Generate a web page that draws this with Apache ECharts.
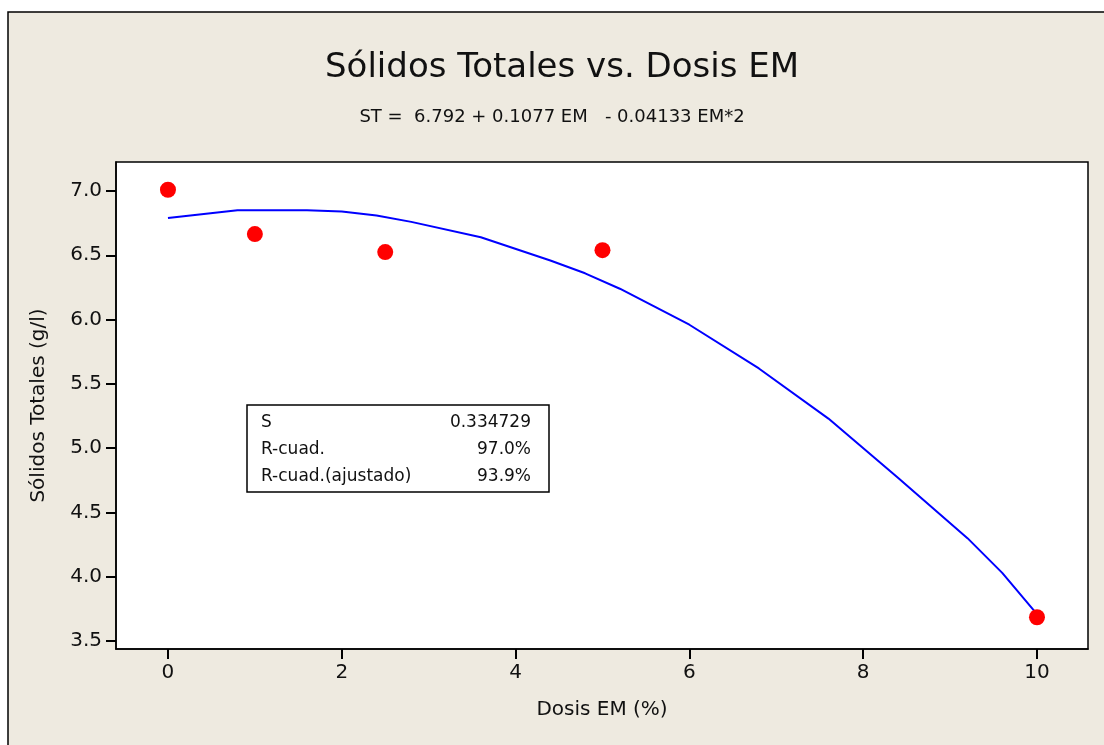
<!DOCTYPE html>
<html>
<head>
<meta charset="utf-8">
<script src="https://cdn.jsdelivr.net/npm/echarts@6/dist/echarts.min.js"></script>
<style>
  html, body { margin: 0; padding: 0; background: #fff; }
  #chart { width: 1104px; height: 745px; }
</style>
</head>
<body>
<div id="chart"></div>
<script>
// observed points (dose EM %, total solids g/l)
var dosis = [0, 1, 2.5, 5, 10];
var solidos = [7.01, 6.665, 6.525, 6.54, 3.685];

// fitted curve as drawn
var ajusteX = [0, 0.8, 1.6, 2.0, 2.4, 2.8, 3.6, 4.4, 4.8, 5.2, 5.6, 6.0, 6.8, 7.6, 8.4, 9.2, 9.6, 10];
var ajusteY = [6.79, 6.85, 6.85, 6.84, 6.81, 6.76, 6.64, 6.46, 6.36, 6.24, 6.10, 5.96, 5.62, 5.23, 4.77, 4.30, 4.03, 3.71];

var xTicks = [0, 2, 4, 6, 8, 10];
var yTicks = [3.5, 4.0, 4.5, 5.0, 5.5, 6.0, 6.5, 7.0];

var statsNombres = ['S', 'R-cuad.', 'R-cuad.(ajustado)'];
var statsValores = ['0.334729', '97.0%', '93.9%'];

var fuente = 'DejaVu Sans';

var chart = echarts.init(document.getElementById('chart'));

var puntos = dosis.map(function (d, i) { return [d, solidos[i]]; });
var curva = ajusteX.map(function (d, i) { return [d, ajusteY[i]]; });

// stats box
var cajaG = [
  {
    type: 'rect',
    shape: { x: 247, y: 405, width: 302, height: 87 },
    style: { fill: '#fff', stroke: '#000', lineWidth: 1.5 },
    z: 10
  }
];
statsNombres.forEach(function (n, i) {
  cajaG.push({
    type: 'text', x: 261, y: 423 + i * 27, z: 11,
    style: { text: n, font: '17px ' + fuente, fill: '#111', verticalAlign: 'middle' }
  });
  cajaG.push({
    type: 'text', x: 531, y: 423 + i * 27, z: 11,
    style: { text: statsValores[i], font: '17px ' + fuente, fill: '#111', align: 'right', verticalAlign: 'middle' }
  });
});

var option = {
  backgroundColor: '#fff',
  animation: false,
  graphic: [
    {
      type: 'rect',
      shape: { x: 8, y: 12, width: 1120, height: 760 },
      style: { fill: '#EEEAE0', stroke: '#000', lineWidth: 1.5 },
      z: -10
    },
    {
      type: 'text', x: 562, y: 68, z: 5,
      style: { text: 'Sólidos Totales vs. Dosis EM', font: '34px ' + fuente, fill: '#111', align: 'center', verticalAlign: 'middle' }
    },
    {
      type: 'text', x: 552, y: 117, z: 5,
      style: { text: 'ST =  6.792 + 0.1077 EM   - 0.04133 EM*2', font: '18px ' + fuente, fill: '#111', align: 'center', verticalAlign: 'middle' }
    }
  ].concat(cajaG),
  grid: {
    left: 116, top: 162, right: 16, bottom: 96,
    show: true, backgroundColor: '#fff', borderColor: '#000', borderWidth: 1.5
  },
  xAxis: {
    type: 'value',
    min: -0.598, max: 10.587,
    name: 'Dosis EM (%)',
    nameLocation: 'middle',
    nameGap: 51,
    nameTextStyle: { fontFamily: fuente, fontSize: 20, color: '#111' },
    splitLine: { show: false },
    axisLine: { show: true, onZero: false, lineStyle: { color: '#000', width: 1.5 } },
    axisTick: { show: true, length: 10, customValues: xTicks, lineStyle: { color: '#000', width: 2 } },
    axisLabel: { customValues: xTicks, margin: 14, fontFamily: fuente, fontSize: 20, color: '#111' }
  },
  yAxis: {
    type: 'value',
    min: 3.438, max: 7.2256,
    name: 'Sólidos Totales (g/l)',
    nameLocation: 'middle',
    nameGap: 67,
    nameTextStyle: { fontFamily: fuente, fontSize: 20, color: '#111' },
    splitLine: { show: false },
    axisLine: { show: true, onZero: false, lineStyle: { color: '#000', width: 1.5 } },
    axisTick: { show: true, length: 10, customValues: yTicks, lineStyle: { color: '#000', width: 2 } },
    axisLabel: {
      customValues: yTicks, margin: 14, fontFamily: fuente, fontSize: 20, color: '#111',
      formatter: function (v) { return v.toFixed(1); }
    }
  },
  series: [
    {
      type: 'line',
      data: curva,
      symbol: 'none',
      lineStyle: { color: '#0000FF', width: 2 },
      z: 2
    },
    {
      type: 'scatter',
      data: puntos,
      symbol: 'circle',
      symbolSize: 16,
      itemStyle: { color: '#FF0000', opacity: 1 },
      z: 3
    }
  ]
};

chart.setOption(option);
</script>
</body>
</html>
